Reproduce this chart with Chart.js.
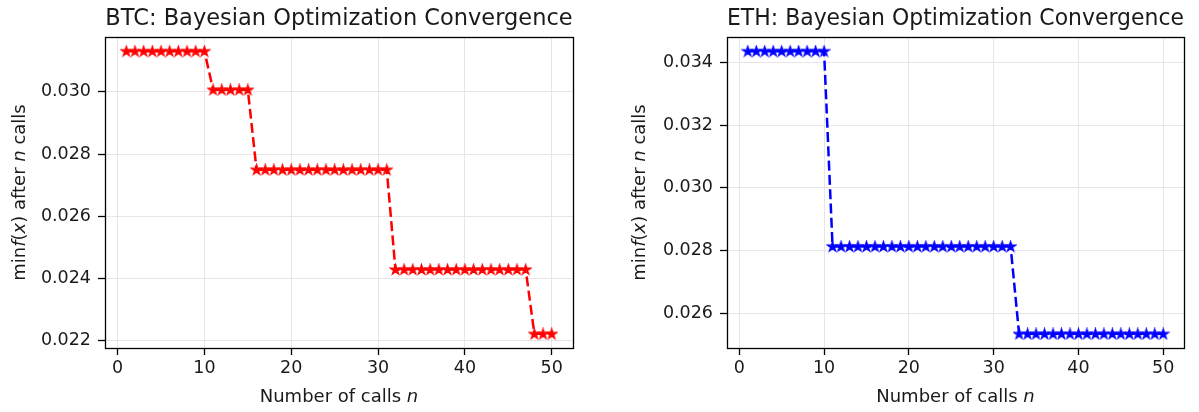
<!DOCTYPE html>
<html>
<head>
<meta charset="utf-8">
<script src="https://cdn.jsdelivr.net/npm/chart.js@4.4.0/dist/chart.umd.min.js"></script>
<style>
  html, body { margin: 0; padding: 0; background: #fff; }
  #wrap { position: relative; width: 1199px; height: 412px; overflow: hidden; }
  canvas { position: absolute; top: 0; }
</style>
</head>
<body>
<div id="wrap">
  <canvas id="btcChart" width="600" height="412" style="left:0"></canvas>
  <canvas id="ethChart" width="599" height="412" style="left:600px"></canvas>
</div>
<script>
// number of calls n
const calls = [1, 2, 3, 4, 5, 6, 7, 8, 9, 10,
               11, 12, 13, 14, 15, 16, 17, 18, 19, 20,
               21, 22, 23, 24, 25, 26, 27, 28, 29, 30,
               31, 32, 33, 34, 35, 36, 37, 38, 39, 40,
               41, 42, 43, 44, 45, 46, 47, 48, 49, 50];

// min f(x) after n calls
const btcMin = [0.03131, 0.03131, 0.03131, 0.03131, 0.03131, 0.03131, 0.03131, 0.03131, 0.03131, 0.03131,
                0.03007, 0.03007, 0.03007, 0.03007, 0.03007,
                0.02750, 0.02750, 0.02750, 0.02750, 0.02750, 0.02750, 0.02750, 0.02750,
                0.02750, 0.02750, 0.02750, 0.02750, 0.02750, 0.02750, 0.02750, 0.02750,
                0.02429, 0.02429, 0.02429, 0.02429, 0.02429, 0.02429, 0.02429, 0.02429,
                0.02429, 0.02429, 0.02429, 0.02429, 0.02429, 0.02429, 0.02429, 0.02429,
                0.02222, 0.02222, 0.02222];

const ethMin = [0.03436, 0.03436, 0.03436, 0.03436, 0.03436, 0.03436, 0.03436, 0.03436, 0.03436, 0.03436,
                0.02813, 0.02813, 0.02813, 0.02813, 0.02813, 0.02813, 0.02813, 0.02813, 0.02813, 0.02813, 0.02813,
                0.02813, 0.02813, 0.02813, 0.02813, 0.02813, 0.02813, 0.02813, 0.02813, 0.02813, 0.02813, 0.02813,
                0.02534, 0.02534, 0.02534, 0.02534, 0.02534, 0.02534, 0.02534, 0.02534, 0.02534,
                0.02534, 0.02534, 0.02534, 0.02534, 0.02534, 0.02534, 0.02534, 0.02534, 0.02534];

const xTicks = [0, 10, 20, 30, 40, 50];
const btcYTicks = [0.022, 0.024, 0.026, 0.028, 0.030];
const ethYTicks = [0.026, 0.028, 0.030, 0.032, 0.034];

const FONT = "'DejaVu Sans', sans-serif";
const TEXT = '#1a1a1a';

// filled five point star, like matplotlib's '*' marker
function starMarker(color) {
    const c = document.createElement('canvas');
    c.width = c.height = 13;
    const g = c.getContext('2d');
    const R = 5.4, r = R * 0.382;
    g.beginPath();
    for (let i = 0; i < 10; i++) {
        const rad = i % 2 ? r : R;
        const a = -Math.PI / 2 + i * Math.PI / 5;
        const px = 6.5 + rad * Math.cos(a), py = 6.8 + rad * Math.sin(a);
        i ? g.lineTo(px, py) : g.moveTo(px, py);
    }
    g.closePath();
    g.fillStyle = color;
    g.strokeStyle = color;
    g.lineWidth = 1.2;
    g.fill();
    g.stroke();
    return c;
}

// pads a data range by 5% like matplotlib does
function padded(values) {
    const lo = Math.min(...values), hi = Math.max(...values);
    const m = (hi - lo) * 0.05;
    return { min: lo - m, max: hi + m };
}

// draws a string made of upright / italic pieces, centred at (0,0)
function drawParts(ctx, parts, size) {
    let total = 0;
    parts.forEach(p => {
        ctx.font = p[1] + size + 'px ' + FONT;
        total += ctx.measureText(p[0]).width;
    });
    let x = -total / 2;
    parts.forEach(p => {
        ctx.font = p[1] + size + 'px ' + FONT;
        ctx.fillText(p[0], x, 0);
        x += ctx.measureText(p[0]).width;
    });
}

const yLabelParts = [['min', ''], ['f', 'italic '], ['(', ''], ['x', 'italic '], [')', ''],
                     [' after ', ''], ['n', 'italic '], [' calls', '']];
const xLabelParts = [['Number of calls ', ''], ['n', 'italic ']];

const frameAndLabels = {
    id: 'frameAndLabels',
    afterDatasetsDraw(chart, args, opts) {
        const ctx = chart.ctx;
        const a = chart.chartArea;
        ctx.save();
        ctx.strokeStyle = '#000';
        ctx.lineWidth = 1.3;
        ctx.strokeRect(Math.round(a.left) + 0.5, Math.round(a.top) + 0.5,
                       Math.round(a.right - a.left), Math.round(a.bottom - a.top));
        ctx.fillStyle = TEXT;
        ctx.textBaseline = 'middle';
        ctx.textAlign = 'left';
        // x axis label
        ctx.save();
        ctx.translate((a.left + a.right) / 2, 397);
        drawParts(ctx, xLabelParts, 18);
        ctx.restore();
        // y axis label
        ctx.save();
        ctx.translate(opts.yLabelX, (a.top + a.bottom) / 2);
        ctx.rotate(-Math.PI / 2);
        drawParts(ctx, yLabelParts, 18);
        ctx.restore();
        ctx.restore();
    }
};

function makeChart(id, title, values, yTicks, color, yAxisWidth, rightPad, yLabelX) {
    const xr = padded(calls);
    const yr = padded(values);
    return new Chart(document.getElementById(id).getContext('2d'), {
        type: 'line',
        data: {
            datasets: [{
                data: calls.map((c, i) => ({ x: c, y: values[i] })),
                borderColor: color,
                backgroundColor: color,
                borderWidth: 2.5,
                borderDash: [10, 4.3],
                pointStyle: starMarker(color),
                pointRadius: 5,
                fill: false,
                tension: 0
            }]
        },
        options: {
            responsive: false,
            animation: false,
            devicePixelRatio: 1,
            layout: { padding: { left: 0, right: rightPad, top: 0, bottom: 0 } },
            scales: {
                x: {
                    type: 'linear',
                    min: xr.min,
                    max: xr.max,
                    afterBuildTicks: s => { s.ticks = xTicks.map(v => ({ value: v })); },
                    afterFit: s => { s.height = 64; },
                    ticks: {
                        font: { family: FONT, size: 17.5 },
                        color: TEXT,
                        padding: 3,
                        maxRotation: 0,
                        autoSkip: false,
                        callback: v => String(v)
                    },
                    grid: { color: '#e6e6e6', lineWidth: 1, tickColor: '#000', tickLength: 7, tickWidth: 1.3 },
                    border: { display: false }
                },
                y: {
                    type: 'linear',
                    min: yr.min,
                    max: yr.max,
                    afterBuildTicks: s => { s.ticks = yTicks.map(v => ({ value: v })); },
                    afterFit: s => { s.width = yAxisWidth; },
                    ticks: {
                        font: { family: FONT, size: 17.5 },
                        color: TEXT,
                        padding: 7,
                        autoSkip: false,
                        callback: v => v.toFixed(3)
                    },
                    grid: { color: '#e6e6e6', lineWidth: 1, tickColor: '#000', tickLength: 7, tickWidth: 1.3 },
                    border: { display: false }
                }
            },
            plugins: {
                legend: { display: false },
                tooltip: { enabled: false },
                title: {
                    display: true,
                    text: title,
                    fullSize: false,
                    color: TEXT,
                    font: { family: FONT, size: 22.5, weight: 'normal' },
                    padding: { top: 6, bottom: 4 }
                },
                frameAndLabels: { yLabelX: yLabelX }
            }
        },
        plugins: [frameAndLabels]
    });
}

makeChart('btcChart', 'BTC: Bayesian Optimization Convergence', btcMin, btcYTicks, '#ff0000', 105, 27, 20);
makeChart('ethChart', 'ETH: Bayesian Optimization Convergence', ethMin, ethYTicks, '#0000ff', 127, 15, 40);
</script>
</body>
</html>
